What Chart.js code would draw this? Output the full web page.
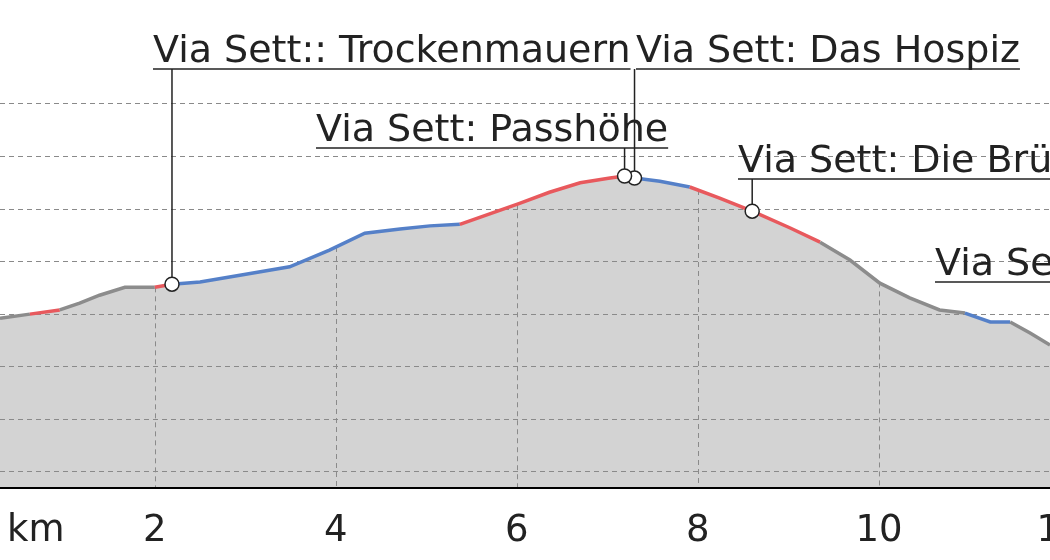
<!DOCTYPE html>
<html>
<head>
<meta charset="utf-8">
<script src="https://cdn.jsdelivr.net/npm/chart.js@4"></script>
<style>
  html, body { margin: 0; padding: 0; background: #fff; }
  #wrap { width: 1050px; height: 560px; }
</style>
</head>
<body>
<div id="wrap"><canvas id="profile"></canvas></div>
<script>
// distance (km) and elevation (m)
const distKm = [0.29, 0.62, 0.95, 1.17, 1.39, 1.67, 2.0, 2.19, 2.5, 2.94, 3.49, 3.93, 4.32, 4.71, 5.04, 5.37,
  5.70, 6.03, 6.36, 6.70, 7.03, 7.19, 7.30, 7.58, 7.91, 8.24, 8.60, 9.02, 9.35, 9.68, 10.01, 10.34, 10.67,
  10.95, 11.23, 11.45, 11.67, 11.89];
const elevM = [1891, 1899, 1907, 1920, 1935, 1950, 1950, 1956, 1960, 1973, 1989, 2021, 2053, 2061, 2067, 2070,
  2090, 2110, 2131, 2149, 2158, 2162, 2158, 2152, 2141, 2120, 2095, 2063, 2036, 2002, 1958, 1930, 1907,
  1901, 1884, 1884, 1863, 1840];
// surface class of the segment starting at each point
const surface = ['g', 'r', 'g', 'g', 'g', 'g', 'r', 'b', 'b', 'b', 'b', 'b', 'b', 'b', 'b', 'r',
  'r', 'r', 'r', 'r', 'r', 'r', 'b', 'b', 'r', 'r', 'r', 'r', 'g', 'g', 'g', 'g', 'g',
  'b', 'b', 'g', 'g', 'g'];
const surfaceColors = { g: '#8c8c8c', r: '#e8595d', b: '#5580c8' };
const xTicks = [2, 4, 6, 8, 10, 12];

// points of interest
const poiNames = ['Via Sett:: Trockenmauern', 'Via Sett: Das Hospiz', 'Via Sett: Passhöhe', 'Via Sett: Die Brücke', 'Via Sett: Marmorera'];
const poiKm = [2.19, 7.30, 7.19, 8.60, 12.6];
const poiElev = [1956, 2158, 2162, 2095, 1820];

const points = distKm.map((d, i) => ({ x: d, y: elevM[i] }));

function elevAt(km) {
  for (let i = 1; i < distKm.length; i++) {
    if (km <= distKm[i]) {
      const t = (km - distKm[i - 1]) / (distKm[i] - distKm[i - 1]);
      return elevM[i - 1] + t * (elevM[i] - elevM[i - 1]);
    }
  }
  return elevM[elevM.length - 1];
}

const annotatePlugin = {
  id: 'annotate',
  afterDatasetDraw(chart, args) {
    if (args.index !== 0) return;
    const { ctx, chartArea: a, scales: { x, y } } = chart;
    ctx.save();
    ctx.setLineDash([5, 4]);
    ctx.strokeStyle = '#8a8a8a';
    ctx.lineWidth = 1;
    for (let v = 1600; v <= 2300; v += 100) {
      const py = Math.round(y.getPixelForValue(v)) + 0.5;
      ctx.beginPath(); ctx.moveTo(a.left, py); ctx.lineTo(a.right, py); ctx.stroke();
    }
    xTicks.forEach(t => {
      const px = Math.round(x.getPixelForValue(t)) + 0.5;
      ctx.beginPath(); ctx.moveTo(px, y.getPixelForValue(elevAt(t))); ctx.lineTo(px, a.bottom); ctx.stroke();
    });
    ctx.restore();
  },
  afterDraw(chart) {
    const { ctx, chartArea: a, scales: { x, y } } = chart;
    ctx.save();
    ctx.strokeStyle = '#000'; ctx.lineWidth = 2;
    ctx.beginPath(); ctx.moveTo(a.left, a.bottom); ctx.lineTo(a.right, a.bottom); ctx.stroke();
    ctx.font = '37px "DejaVu Sans"';
    ctx.fillStyle = '#222';
    ctx.textAlign = 'center';
    xTicks.forEach(t => ctx.fillText(String(t), x.getPixelForValue(t), 541));
    ctx.textAlign = 'left';
    ctx.fillText('km', 7, 541);
    ctx.font = '38px "DejaVu Sans"';
    const place = [[153, 62], [636, 62], [316, 141], [738, 172], [935, 275]];
    poiNames.forEach((name, i) => {
      const px = x.getPixelForValue(poiKm[i]);
      const py = y.getPixelForValue(poiElev[i]);
      const [lx, by] = place[i];
      const w = ctx.measureText(name).width;
      ctx.fillStyle = '#222';
      ctx.fillText(name, lx, by);
      ctx.strokeStyle = '#222'; ctx.lineWidth = 1.5;
      ctx.beginPath(); ctx.moveTo(lx, by + 7); ctx.lineTo(lx + w, by + 7); ctx.stroke();
      ctx.beginPath(); ctx.moveTo(px, by + 7); ctx.lineTo(px, py); ctx.stroke();
      ctx.beginPath(); ctx.arc(px, py, 7, 0, Math.PI * 2);
      ctx.fillStyle = '#fff'; ctx.fill(); ctx.stroke();
    });
    ctx.restore();
  }
};

new Chart(document.getElementById('profile'), {
  type: 'scatter',
  data: {
    datasets: [
      { data: points, showLine: true, fill: 'origin', backgroundColor: '#d3d3d3', borderWidth: 0, pointRadius: 0, order: 2 },
      {
        data: points, showLine: true, fill: false, borderWidth: 3.5, pointRadius: 0, order: 1,
        segment: { borderColor: c => surfaceColors[surface[c.p0DataIndex]] }
      }
    ]
  },
  options: {
    responsive: true,
    maintainAspectRatio: false,
    animation: false,
    layout: { padding: 0 },
    plugins: { legend: { display: false }, tooltip: { enabled: false } },
    scales: {
      x: {
        type: 'linear', min: 0.29, max: 11.89,
        afterFit: s => { s.height = 72; },
        grid: { display: false }, border: { display: false },
        ticks: { display: false }
      },
      y: {
        min: 1568, max: 2497,
        afterFit: s => { s.width = 0; },
        ticks: { display: false }, grid: { display: false }, border: { display: false }
      }
    }
  },
  plugins: [annotatePlugin]
});
</script>
</body>
</html>
